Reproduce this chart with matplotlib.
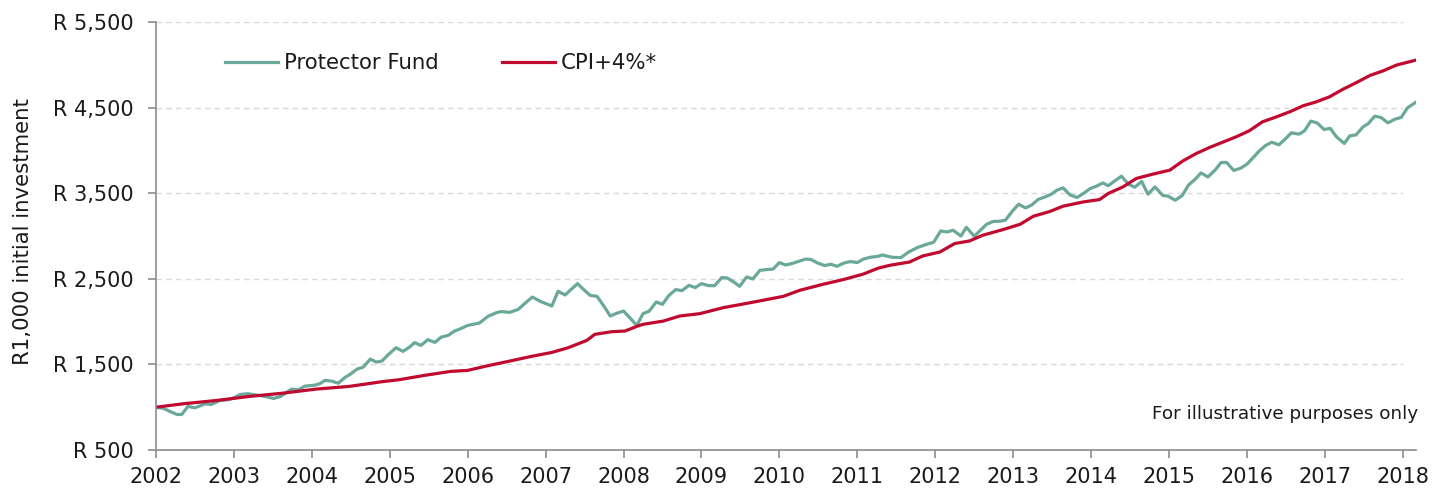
import matplotlib
matplotlib.use("Agg")
import matplotlib.pyplot as plt
from matplotlib.ticker import FuncFormatter

plt.rcParams['font.family'] = ['DejaVu Sans']

fund_years = [2002.00, 2002.10, 2002.18, 2002.27, 2002.33, 2002.41, 2002.50, 2002.56, 2002.63, 2002.71,
              2002.82, 2002.93, 2003.00, 2003.08, 2003.18, 2003.29, 2003.40, 2003.51, 2003.60, 2003.68,
              2003.74, 2003.83, 2003.91, 2004.04, 2004.10, 2004.17, 2004.25, 2004.34, 2004.43, 2004.49,
              2004.58, 2004.66, 2004.75, 2004.83, 2004.90, 2004.98, 2005.08, 2005.17, 2005.25, 2005.32,
              2005.40, 2005.49, 2005.58, 2005.66, 2005.75, 2005.83, 2005.92, 2006.00, 2006.08, 2006.15,
              2006.26, 2006.37, 2006.43, 2006.54, 2006.65, 2006.73, 2006.83, 2006.93, 2007.08, 2007.16,
              2007.25, 2007.33, 2007.41, 2007.48, 2007.57, 2007.66, 2007.75, 2007.83, 2007.92, 2008.00,
              2008.08, 2008.17, 2008.25, 2008.33, 2008.42, 2008.50, 2008.58, 2008.67, 2008.75, 2008.84,
              2008.92, 2009.00, 2009.09, 2009.17, 2009.26, 2009.33, 2009.42, 2009.49, 2009.58, 2009.66,
              2009.75, 2009.84, 2009.92, 2010.00, 2010.08, 2010.16, 2010.26, 2010.34, 2010.41, 2010.49,
              2010.58, 2010.66, 2010.74, 2010.83, 2010.91, 2011.00, 2011.08, 2011.17, 2011.27, 2011.32,
              2011.45, 2011.56, 2011.66, 2011.77, 2011.88, 2011.98, 2012.07, 2012.15, 2012.23, 2012.33,
              2012.40, 2012.50, 2012.58, 2012.66, 2012.74, 2012.83, 2012.90, 2012.99, 2013.07, 2013.16,
              2013.24, 2013.32, 2013.41, 2013.49, 2013.56, 2013.64, 2013.73, 2013.82, 2013.90, 2013.99,
              2014.07, 2014.15, 2014.22, 2014.30, 2014.39, 2014.48, 2014.56, 2014.65, 2014.73, 2014.82,
              2014.92, 2014.99, 2015.08, 2015.17, 2015.25, 2015.34, 2015.41, 2015.50, 2015.59, 2015.67,
              2015.74, 2015.83, 2015.92, 2016.00, 2016.09, 2016.16, 2016.24, 2016.32, 2016.41, 2016.50,
              2016.57, 2016.67, 2016.74, 2016.82, 2016.90, 2016.99, 2017.07, 2017.15, 2017.25, 2017.32,
              2017.40, 2017.49, 2017.56, 2017.64, 2017.72, 2017.81, 2017.90, 2017.98, 2018.06, 2018.17]

fund_values = [1000, 985, 950, 915, 915, 1009, 993, 1015, 1040, 1032,
               1079, 1087, 1110, 1149, 1157, 1141, 1126, 1102, 1126, 1176,
               1211, 1204, 1246, 1258, 1274, 1313, 1305, 1281, 1351, 1383,
               1445, 1468, 1562, 1527, 1539, 1613, 1695, 1652, 1700, 1754,
               1722, 1789, 1757, 1819, 1839, 1889, 1921, 1956, 1970, 1983,
               2061, 2105, 2117, 2108, 2143, 2210, 2287, 2237, 2182, 2354,
               2311, 2377, 2444, 2381, 2307, 2295, 2178, 2065, 2100, 2123,
               2046, 1955, 2093, 2123, 2229, 2202, 2303, 2374, 2362, 2424,
               2397, 2444, 2420, 2420, 2514, 2510, 2459, 2412, 2521, 2498,
               2599, 2608, 2614, 2689, 2661, 2678, 2708, 2731, 2724, 2685,
               2654, 2670, 2646, 2685, 2701, 2690, 2731, 2752, 2763, 2778,
               2751, 2748, 2813, 2865, 2900, 2927, 3059, 3047, 3067, 3000,
               3102, 2997, 3067, 3137, 3169, 3173, 3184, 3290, 3371, 3328,
               3363, 3427, 3457, 3488, 3535, 3562, 3480, 3450, 3496, 3555,
               3582, 3620, 3588, 3640, 3699, 3605, 3570, 3637, 3488, 3574,
               3473, 3465, 3418, 3473, 3594, 3667, 3737, 3690, 3769, 3859,
               3859, 3766, 3792, 3839, 3925, 3995, 4058, 4096, 4065, 4140,
               4205, 4190, 4229, 4342, 4322, 4245, 4257, 4158, 4081, 4170,
               4181, 4275, 4315, 4400, 4385, 4322, 4365, 4385, 4497, 4564]

cpi_years = [2002.00, 2002.35, 2002.78, 2003.20, 2003.63, 2004.05, 2004.48, 2004.90, 2005.12, 2005.44,
             2005.78, 2006.00, 2006.22, 2006.52, 2006.82, 2007.08, 2007.29, 2007.53, 2007.63, 2007.85,
             2008.02, 2008.17, 2008.25, 2008.51, 2008.72, 2008.98, 2009.28, 2009.49, 2009.79, 2010.05,
             2010.26, 2010.56, 2010.82, 2011.07, 2011.27, 2011.42, 2011.67, 2011.84, 2012.06, 2012.25,
             2012.44, 2012.61, 2012.87, 2013.09, 2013.26, 2013.47, 2013.64, 2013.90, 2014.11, 2014.22,
             2014.41, 2014.58, 2014.79, 2015.01, 2015.18, 2015.35, 2015.52, 2015.69, 2015.86, 2016.03,
             2016.20, 2016.38, 2016.55, 2016.72, 2016.89, 2017.06, 2017.23, 2017.40, 2017.58, 2017.75,
             2017.92, 2018.17]

cpi_values = [1000, 1040, 1079, 1126, 1164, 1211, 1243, 1298, 1321, 1371,
              1418, 1430, 1477, 1535, 1594, 1640, 1695, 1781, 1851, 1882,
              1890, 1944, 1968, 2006, 2065, 2093, 2163, 2198, 2249, 2295,
              2365, 2436, 2491, 2553, 2625, 2658, 2696, 2767, 2813, 2912,
              2942, 3009, 3075, 3137, 3231, 3286, 3348, 3398, 3426, 3497,
              3574, 3672, 3722, 3769, 3878, 3964, 4034, 4096, 4158, 4229,
              4334, 4392, 4451, 4521, 4567, 4626, 4713, 4790, 4876, 4930,
              4997, 5055]

year_ticks = list(range(2002, 2019))
value_ticks = [500, 1500, 2500, 3500, 4500, 5500]

series_labels = ["Protector Fund", "CPI+4%*"]
fund_color = "#6aa899"
cpi_color = "#c00a30"

fig = plt.figure(figsize=(14.32, 4.88), dpi=100)
ax = fig.add_axes([156/1432, 38/488, 1260/1432, 428/488])

ax.plot(fund_years, fund_values, color=fund_color, lw=2.3, label=series_labels[0], solid_joinstyle='round')
ax.plot(cpi_years, cpi_values, color=cpi_color, lw=2.3, label=series_labels[1], solid_joinstyle='round')

ax.set_xlim(2002, 2018.17)
ax.set_ylim(500, 5500)
ax.set_xticks(year_ticks)
ax.set_yticks(value_ticks)
ax.yaxis.set_major_formatter(FuncFormatter(lambda v, p: "R {:,.0f}".format(v)))

for v in value_ticks[1:]:
    ax.axhline(v, xmin=0, xmax=0.99, color="#d9d9d9", lw=1.0, ls=(0, (4, 3)), zorder=0)

for s in ["top", "right"]:
    ax.spines[s].set_visible(False)
for s in ["left", "bottom"]:
    ax.spines[s].set_color("#8c8c8c")
    ax.spines[s].set_linewidth(1.2)

ax.tick_params(axis='both', colors="#8c8c8c", length=5.8, width=1.2, labelsize=15, labelcolor="#1a1a1a")
ax.tick_params(axis='x', pad=6.5)
ax.tick_params(axis='y', pad=10)

fig.text(23/1432, (488-232)/488, "R1,000 initial investment", rotation=90, ha='center', va='center',
         fontsize=15.3, color="#1a1a1a")

leg = ax.legend(loc='center left', bbox_to_anchor=(0.055, 0.904), ncol=2, frameon=False,
                fontsize=15.3, handlelength=2.5, handletextpad=0.25, columnspacing=3.0,
                borderpad=0, borderaxespad=0)
for t in leg.get_texts():
    t.set_color("#1a1a1a")

ax.text(1.0016, 0.085, "For illustrative purposes only", transform=ax.transAxes,
        ha='right', va='center', fontsize=13.2, color="#1a1a1a")

fig.savefig("out.png", dpi=100)
